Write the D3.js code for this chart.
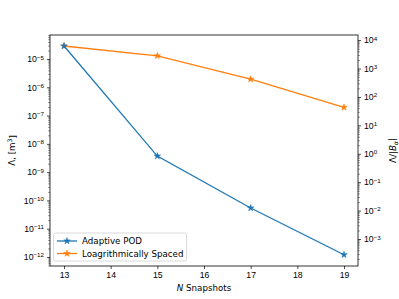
<!DOCTYPE html>
<html>
<head>
<meta charset="utf-8">
<script src="https://d3js.org/d3.v7.min.js"></script>
<style>
  body { margin: 0; background: #fff; }
  svg { font-family: "DejaVu Sans", sans-serif; }
  .tick text { font-size: 8.7px; fill: #000; }
</style>
</head>
<body>
<div id="chart"></div>
<script>
// data
var snapshots = [13, 15, 17, 19];
var adaptiveVol = [2.9e-5, 3.7e-9, 5.4e-11, 1.2e-12];   // left axis
var logSpacedRatio = [6.2e3, 2.8e3, 4.2e2, 43];         // right axis
var xTicks = [13, 14, 15, 16, 17, 18, 19];
var leftExps = [-12, -11, -10, -9, -8, -7, -6, -5];
var rightExps = [-3, -2, -1, 0, 1, 2, 3, 4];

var W = 399, H = 299;
var margin = {top: 35, right: 41, bottom: 33, left: 50};

var svg = d3.select("#chart").append("svg")
    .attr("width", W).attr("height", H);

var x = d3.scaleLinear().domain([12.7, 19.3]).range([margin.left, W - margin.right]);
var yL = d3.scaleLog().domain([Math.pow(10, -12.32), Math.pow(10, -4.15)]).range([H - margin.bottom, margin.top]);
var yR = d3.scaleLog().domain([Math.pow(10, -3.95), Math.pow(10, 4.18)]).range([H - margin.bottom, margin.top]);

// minor tick values 2..9 x 10^k inside a domain
function minors(scale) {
  var d = scale.domain(), out = [];
  for (var k = Math.floor(Math.log10(d[0])); k <= Math.ceil(Math.log10(d[1])); k++) {
    for (var m = 2; m <= 9; m++) {
      var v = m * Math.pow(10, k);
      if (v >= d[0] && v <= d[1]) out.push(v);
    }
  }
  return out;
}

// writes 10^e as text with a superscript
function powLabel(sel) {
  sel.each(function(d) {
    var t = d3.select(this), e = Math.round(Math.log10(d));
    t.text("");
    t.append("tspan").text("10");
    t.append("tspan").attr("dy", "-0.45em").style("font-size", "6.2px")
      .text(e < 0 ? "\u2212" + (-e) : e);
  });
}

var bottom = H - margin.bottom, right = W - margin.right;

// x axis
var gx = svg.append("g").attr("transform", "translate(0," + bottom + ")")
  .call(d3.axisBottom(x).tickValues(xTicks).tickSize(3).tickPadding(3).tickFormat(d3.format("d")));
gx.select(".domain").remove();
gx.selectAll("line").attr("stroke-width", 0.7);

// left axis, minor then major
var gLm = svg.append("g").attr("transform", "translate(" + margin.left + ",0)")
  .call(d3.axisLeft(yL).tickValues(minors(yL)).tickSize(1.7).tickFormat(""));
gLm.select(".domain").remove();
gLm.selectAll("line").attr("stroke-width", 0.5);
var gL = svg.append("g").attr("transform", "translate(" + margin.left + ",0)")
  .call(d3.axisLeft(yL).tickValues(leftExps.map(function(e){ return Math.pow(10, e); })).tickSize(3).tickPadding(3));
gL.select(".domain").remove();
gL.selectAll("line").attr("stroke-width", 0.7);
gL.selectAll(".tick text").call(powLabel);

// right axis
var gRm = svg.append("g").attr("transform", "translate(" + right + ",0)")
  .call(d3.axisRight(yR).tickValues(minors(yR)).tickSize(1.7).tickFormat(""));
gRm.select(".domain").remove();
gRm.selectAll("line").attr("stroke-width", 0.5);
var gR = svg.append("g").attr("transform", "translate(" + right + ",0)")
  .call(d3.axisRight(yR).tickValues(rightExps.map(function(e){ return Math.pow(10, e); })).tickSize(3).tickPadding(3));
gR.select(".domain").remove();
gR.selectAll("line").attr("stroke-width", 0.7);
gR.selectAll(".tick text").call(powLabel);

// frame
svg.append("rect")
  .attr("x", margin.left).attr("y", margin.top)
  .attr("width", right - margin.left).attr("height", bottom - margin.top)
  .attr("fill", "none").attr("stroke", "#000").attr("stroke-width", 0.8);

// series
var star = d3.symbol().type(d3.symbolStar).size(13);
function drawSeries(vals, yScale, color) {
  var pts = snapshots.map(function(s, i){ return [x(s), yScale(vals[i])]; });
  svg.append("path").attr("d", d3.line()(pts))
    .attr("fill", "none").attr("stroke", color).attr("stroke-width", 1.3);
  svg.selectAll(null).data(pts).enter().append("path")
    .attr("d", star).attr("transform", function(p){ return "translate(" + p[0] + "," + p[1] + ")"; })
    .attr("fill", color).attr("stroke", color).attr("stroke-width", 0.6);
}
drawSeries(logSpacedRatio, yR, "#ff7f0e");
drawSeries(adaptiveVol, yL, "#1f77b4");

// axis labels
var xl = svg.append("text").attr("x", (margin.left + right) / 2).attr("y", 291)
  .attr("text-anchor", "middle").style("font-size", "8.7px");
xl.append("tspan").style("font-style", "italic").text("N");
xl.append("tspan").text(" Snapshots");

var ylL = svg.append("text").attr("transform", "translate(15," + ((margin.top + bottom) / 2) + ") rotate(-90)")
  .attr("text-anchor", "middle").style("font-size", "8.7px");
ylL.append("tspan").text("\u039b, [m");
ylL.append("tspan").attr("dy", "-0.45em").style("font-size", "6.2px").text("3");
ylL.append("tspan").attr("dy", "0.45em").text("]");

var ylR = svg.append("text").attr("transform", "translate(396," + ((margin.top + bottom) / 2) + ") rotate(-90)")
  .attr("text-anchor", "middle").style("font-size", "8.7px");
ylR.append("tspan").text("\u039b/|");
ylR.append("tspan").style("font-style", "italic").text("B");
ylR.append("tspan").attr("dy", "0.3em").style("font-size", "6.2px").style("font-style", "italic").text("\u03b1");
ylR.append("tspan").attr("dy", "-0.3em").text("|");

// legend
var leg = svg.append("g");
leg.append("rect").attr("x", 53.5).attr("y", 233).attr("width", 133).attr("height", 28)
  .attr("rx", 2).attr("fill", "#fff").attr("fill-opacity", 0.8)
  .attr("stroke", "#d0d0d0").attr("stroke-width", 0.8);
[["Adaptive POD", "#1f77b4", 241], ["Loagrithmically Spaced", "#ff7f0e", 253.5]].forEach(function(e) {
  leg.append("line").attr("x1", 57).attr("x2", 77).attr("y1", e[2]).attr("y2", e[2])
    .attr("stroke", e[1]).attr("stroke-width", 1.3);
  leg.append("path").attr("d", star).attr("transform", "translate(67," + e[2] + ")")
    .attr("fill", e[1]).attr("stroke", e[1]).attr("stroke-width", 0.6);
  leg.append("text").attr("x", 82).attr("y", e[2] + 3).style("font-size", "8.7px").text(e[0]);
});
</script>
</body>
</html>
